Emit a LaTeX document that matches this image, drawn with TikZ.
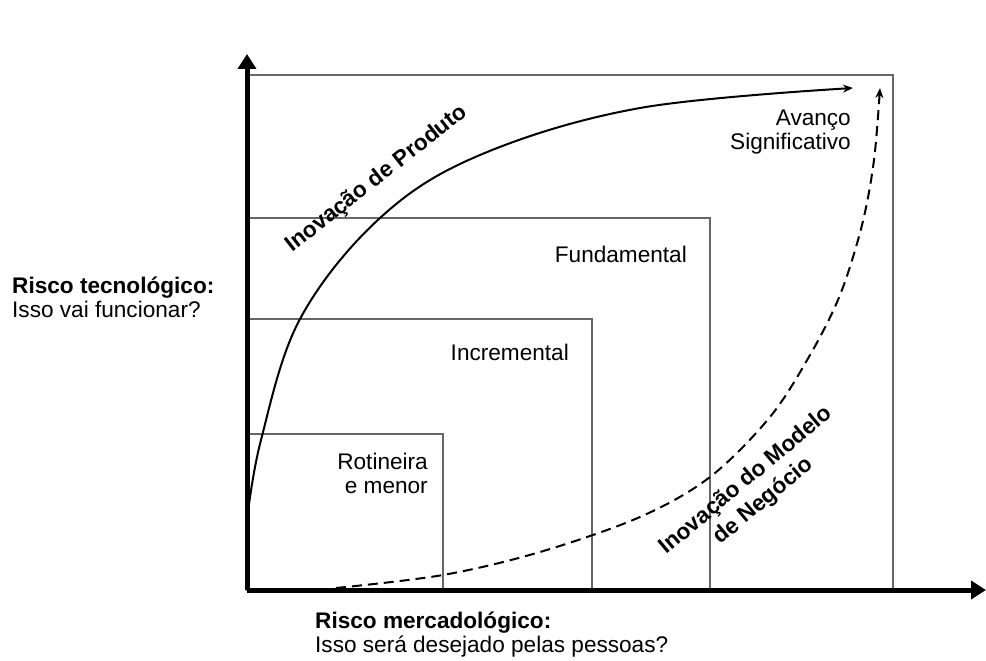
\documentclass[tikz,border=0pt]{standalone}
\usepackage{fontspec}
\setmainfont{Liberation Sans}
\usetikzlibrary{arrows.meta}

\tikzset{
  axis/.style={line width=5pt, -{Triangle[width=18pt,length=15pt]}},
  box/.style={draw=black!60, line width=1.3pt},
  curve/.style={line width=2pt, -{Stealth[width=8pt,length=10pt]}},
  lbl/.style={inner sep=0pt, font=\fontsize{22.6}{23.5}\selectfont},
  bold lbl/.style={lbl, font=\fontsize{22.6}{27}\selectfont\bfseries},
  risk/.style={lbl, align=left, anchor=north west},
}

\begin{document}
\begin{tikzpicture}[x=1pt,y=-1pt]
\useasboundingbox (0,0) rectangle (986,661);

% Origin and box corners
\coordinate (O) at (247,590);
\coordinate (R1) at (443,434);
\coordinate (R2) at (592,319);
\coordinate (R3) at (710,218);
\coordinate (R4) at (893,75);

% Boxes
\draw[box] (O) rectangle (R1);
\draw[box] (O) rectangle (R2);
\draw[box] (O) rectangle (R3);
\draw[box] (O) rectangle (R4);

% Axes
\coordinate (Ytip) at (247,54);
\coordinate (Xtip) at (986,590);
\draw[axis] (O) -- (Ytip);
\draw[axis] (O) -- (Xtip);

% Box titles
\node[lbl, align=right, anchor=north east] (rot) at (428,453) {Rotineira\\e menor};
\node[lbl, anchor=base east] (inc) at (569,360) {Incremental};
\node[lbl, anchor=base east] (fun) at (687,262) {Fundamental};
\node[lbl, align=right, anchor=north east] (ava) at (851,110) {Avanço\\Significativo};

% Product curve
\draw[curve] plot[smooth, tension=0.6] coordinates {(247,520) (261,440) (300,319) (380,218) (480,155) (640,108) (853,88)};

% Business model curve
\draw[curve, dash pattern=on 10pt off 6pt] plot[smooth, tension=0.55] coordinates {(336,588) (443,575) (540,552) (640,517) (710,477) (770,417) (810,355) (840,295) (862,225) (874,160) (880,88)};

% Curve titles
\node[bold lbl, rotate=38] (prod) at (377,179) {Inovação de Produto};
\node[bold lbl, align=center, rotate=40] (neg) at (755,491) {Inovação do Modelo\\de Negócio};

% Axis titles
\node[risk] (tec) at (12,277) {\textbf{Risco tecnológico:}\\Isso vai funcionar?};
\node[risk] (mer) at (315,612) {\textbf{Risco mercadológico:}\\Isso será desejado pelas pessoas?};

\end{tikzpicture}
\end{document}
